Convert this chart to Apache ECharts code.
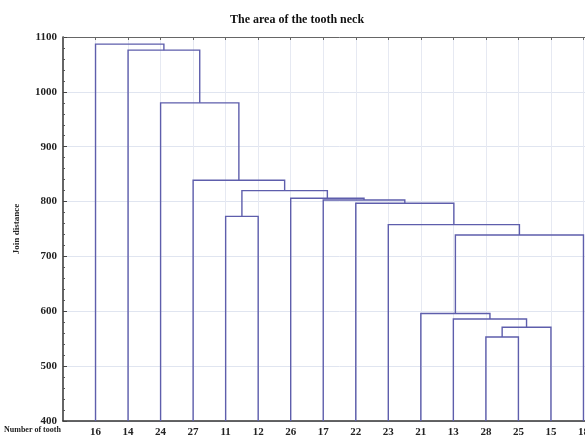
<!DOCTYPE html>
<html>
<head>
<meta charset="utf-8">
<script src="https://cdn.jsdelivr.net/npm/echarts@6/dist/echarts.min.js"></script>
<style>
html,body{margin:0;padding:0;background:#fff;overflow:hidden;width:585px;height:442px;}
#chart{width:620px;height:442px;}
</style>
</head>
<body>
<div id="chart"></div>
<script>
// Leaf order (tooth numbers) along the x axis
const leaves = ['16','14','24','27','11','12','26','17','22','23','21','13','28','25','15','18'];
// Merge steps: left child, right child (leaf label or cluster id 'cN'), join distance
const mergeLeft   = ['28','c0','13','21','c3','23','11','22','17','26','c6','27','24','14','16'];
const mergeRight  = ['25','15','c1','c2','18','c4','12','c5','c7','c8','c9','c10','c11','c12','c13'];
const mergeHeight = [553, 571, 586, 596, 739, 758, 773, 797, 803, 806, 820, 839, 980, 1076, 1087];
const yTicks = [400, 500, 600, 700, 800, 900, 1000, 1100];

const yMin = yTicks[0], yMax = yTicks[yTicks.length - 1];
const pos = {}, hgt = {};
leaves.forEach((l, i) => { pos[l] = i + 1; hgt[l] = yMin; });
const segs = [];
mergeLeft.forEach((a, i) => {
  const b = mergeRight[i], h = mergeHeight[i];
  segs.push([pos[a], hgt[a], pos[b], hgt[b], h]);
  pos['c' + i] = (pos[a] + pos[b]) / 2;
  hgt['c' + i] = h;
});

const serif = '"Liberation Serif","DejaVu Serif",serif';
const chart = echarts.init(document.getElementById('chart'));
chart.setOption({
  backgroundColor: '#fff',
  animation: false,
  title: {
    text: 'The area of the tooth neck',
    left: 292, top: 9, textAlign: 'center',
    textStyle: {fontFamily: serif, fontWeight: 'bold', fontSize: 12, color: '#111'}
  },
  grid: {left: 63, right: 4, top: 37, bottom: 21},
  xAxis: [{
    type: 'value', min: 0, max: leaves.length + 1, interval: 1,
    axisLine: {lineStyle: {color: '#333', width: 1.5}},
    axisTick: {show: false},
    axisLabel: {
      margin: 6,
      formatter: v => (v >= 1 && v <= leaves.length) ? leaves[v - 1] : '',
      fontFamily: serif, fontWeight: 'bold', fontSize: 11, color: '#222'
    },
    splitLine: {show: true, lineStyle: {color: '#e6e9f2', width: 1}}
  }, {
    type: 'value', position: 'top', min: 0, max: leaves.length + 1, interval: 1,
    axisLine: {show: true, lineStyle: {color: '#666', width: 1}},
    axisTick: {show: true, inside: true, length: 3, lineStyle: {color: '#666'}},
    axisLabel: {show: false}, splitLine: {show: false}
  }],
  yAxis: [{
    type: 'value', min: yMin, max: yMax, interval: 100,
    name: 'Join distance', nameLocation: 'middle', nameGap: 42, nameRotate: 90,
    nameTextStyle: {fontFamily: serif, fontWeight: 'bold', fontSize: 9, color: '#222'},
    axisLine: {show: true, lineStyle: {color: '#333', width: 1.5}},
    axisTick: {show: true, inside: true, length: 4, lineStyle: {color: '#444'}},
    minorTick: {show: true, splitNumber: 5, length: 2, lineStyle: {color: '#555'}},
    axisLabel: {margin: 6, formatter: v => String(v), fontFamily: serif, fontWeight: 'bold', fontSize: 11, color: '#222'},
    splitLine: {show: true, lineStyle: {color: '#e0e5f0', width: 1}}
  }, {
    type: 'value', position: 'right', min: yMin, max: yMax, interval: 100,
    axisLine: {show: true, lineStyle: {color: '#666', width: 1}},
    axisTick: {show: false}, axisLabel: {show: false}, splitLine: {show: false}
  }],
  graphic: [{
    type: 'text', left: 4, top: 426,
    style: {text: 'Number of tooth', font: 'bold 8px ' + serif, fill: '#222'}
  }],
  series: [{
    type: 'custom',
    xAxisIndex: 0, yAxisIndex: 0,
    data: segs,
    encode: {x: [0, 2], y: [1, 3, 4]},
    renderItem: function (params, api) {
      const xa = api.value(0), ya = api.value(1), xb = api.value(2), yb = api.value(3), h = api.value(4);
      const pts = [api.coord([xa, ya]), api.coord([xa, h]), api.coord([xb, h]), api.coord([xb, yb])];
      return {
        type: 'polyline',
        shape: {points: pts},
        style: {stroke: '#5e5eac', lineWidth: 1.4, fill: null}
      };
    }
  }]
});
</script>
</body>
</html>
